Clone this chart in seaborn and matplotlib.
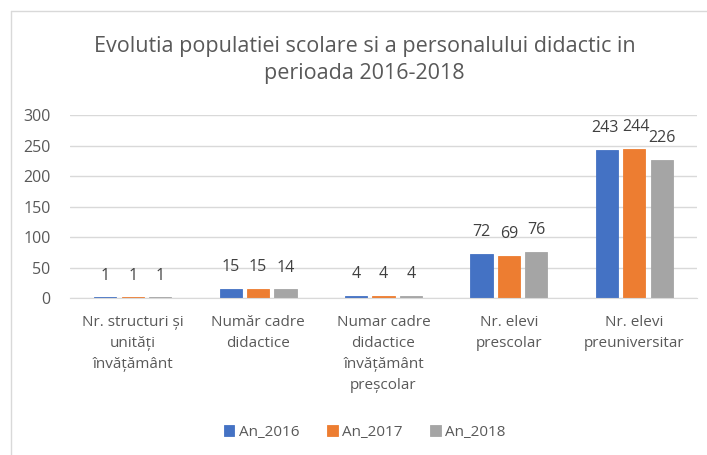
import seaborn as sns
import pandas as pd
import matplotlib
matplotlib.use('Agg')
import matplotlib.pyplot as plt
from matplotlib.lines import Line2D

# Data
categories = ['Nr. structuri și\nunități\nînvățământ',
              'Număr cadre\ndidactice',
              'Numar cadre\ndidactice\nînvățământ\npreșcolar',
              'Nr. elevi\nprescolar',
              'Nr. elevi\npreuniversitar']
years = ['An_2016', 'An_2017', 'An_2018']
an_2016 = [1, 15, 4, 72, 243]
an_2017 = [1, 15, 4, 69, 244]
an_2018 = [1, 14, 4, 76, 226]
colors = ['#4472C4', '#ED7D31', '#A5A5A5']

df = pd.DataFrame({
    'Categorie': categories * 3,
    'An': [y for y in years for _ in categories],
    'Valoare': an_2016 + an_2017 + an_2018,
})

sns.set_style('white')
plt.rcParams['font.family'] = ['Open Sans', 'DejaVu Sans']
text_col = '#595959'

fig = plt.figure(figsize=(7.07, 4.55), dpi=100)
ax = fig.add_axes([0.099, 0.345, 0.887, 0.402])

sns.barplot(data=df, x='Categorie', y='Valoare', hue='An', palette=colors,
            width=0.655, gap=0.19, ax=ax, legend=True, saturation=1,
            linewidth=0.6)
for p in ax.patches:
    p.set_edgecolor(p.get_facecolor())

labels = [ax.bar_label(c, padding=10, fontsize=11.5, color='#404040') for c in ax.containers]
# the two tall neighbouring labels sit almost on top of each other; nudge them apart a bit
labels[0][4].xyann = (-1.2, 10)
labels[1][4].xyann = (1.2, 10)

ax.set_ylim(0, 300)
ax.set_yticks(range(0, 301, 50))
ax.set_xlim(-0.5, 4.5)
ax.yaxis.grid(True, color='#D9D9D9', linewidth=1)
ax.set_axisbelow(True)
for s in ['left', 'right', 'top']:
    ax.spines[s].set_visible(False)
ax.spines['bottom'].set_color('#D9D9D9')
ax.tick_params(axis='both', length=0, labelsize=11.5, colors=text_col)
ax.tick_params(axis='y', pad=14)
ax.tick_params(axis='x', pad=12)
for lbl in ax.get_xticklabels():
    lbl.set_linespacing(1.55)
    lbl.set_fontsize(11)
ax.set_xlabel('')
ax.set_ylabel('')

ax.legend(loc='upper center', bbox_to_anchor=(0.47, -0.62), ncol=3, frameon=False,
          fontsize=11, handlelength=0.7, handleheight=0.7, columnspacing=1.8,
          handletextpad=0.3, labelcolor=text_col)

fig.text(0.516, 0.868, 'Evolutia populatiei scolare si a personalului didactic in\nperioada 2016-2018',
         ha='center', va='center', fontsize=15.5, color=text_col, linespacing=1.35)

# light chart border (top and left)
fig.add_artist(Line2D([0.015, 1.0], [0.976, 0.976], color='#D9D9D9', linewidth=1))
fig.add_artist(Line2D([0.015, 0.015], [0.0, 0.976], color='#D9D9D9', linewidth=1))

fig.savefig('out.png', dpi=100, facecolor='white')
